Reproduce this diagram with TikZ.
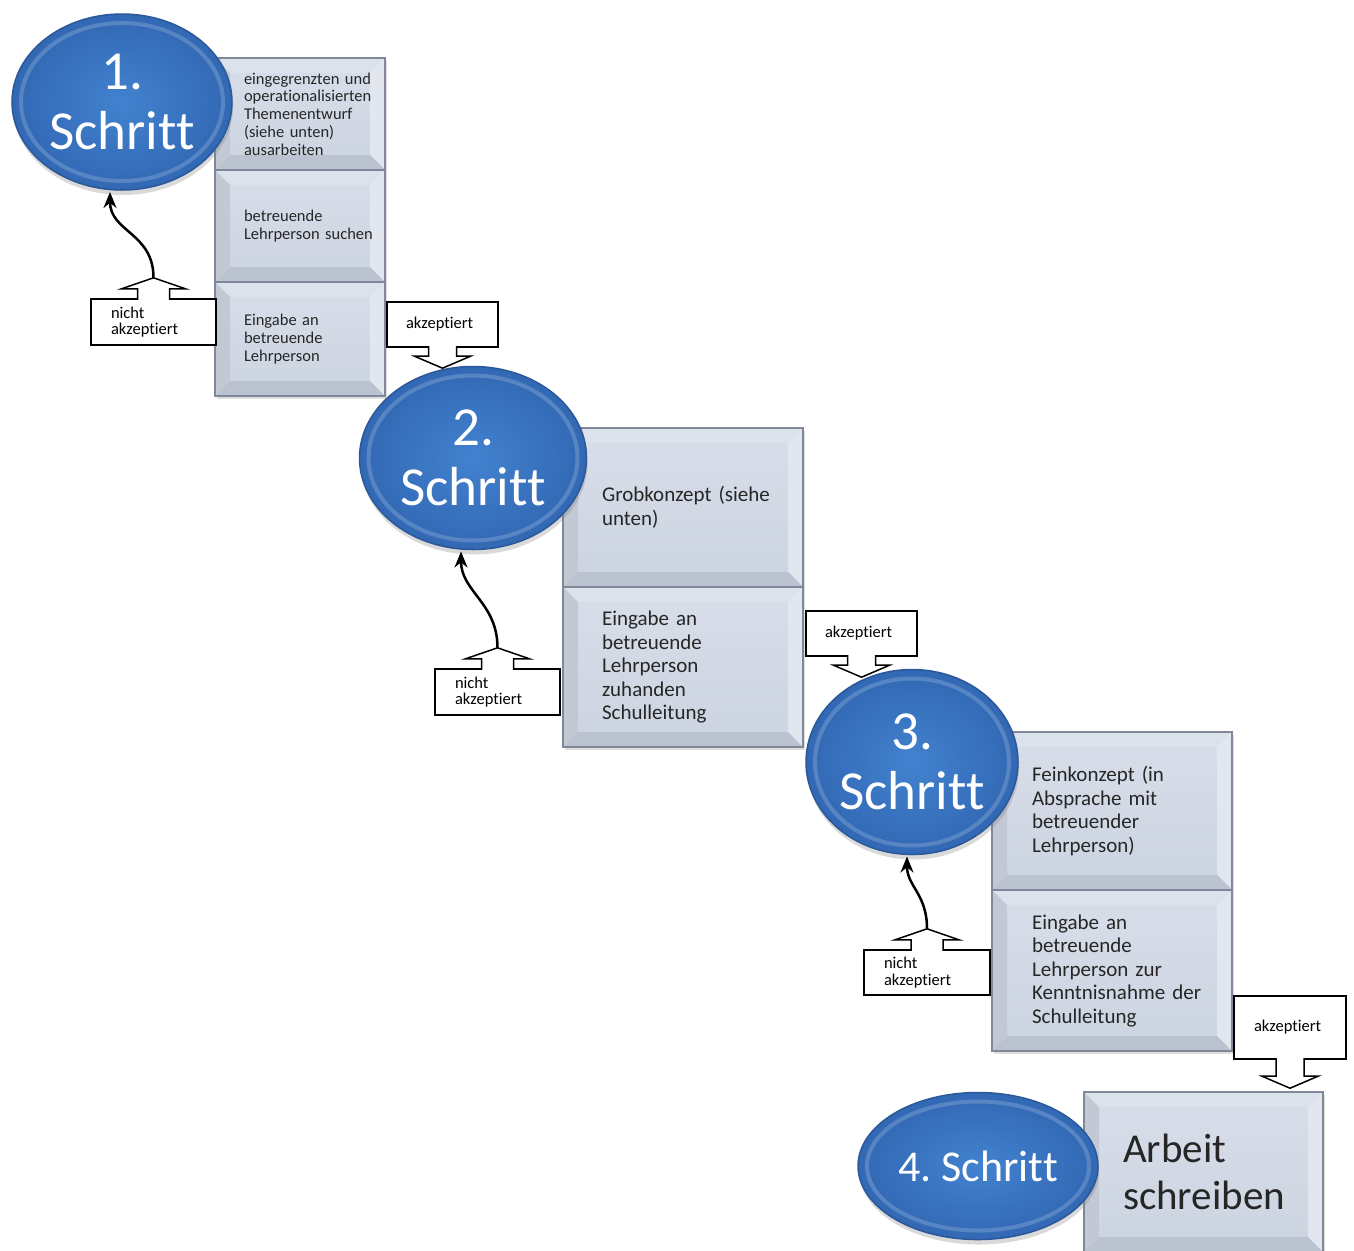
\documentclass[tikz,border=0pt]{standalone}
\usepackage{fontspec}
\setmainfont{Carlito}[Ligatures={TeX,NoCommon}]
\usetikzlibrary{calc}
\usetikzlibrary{arrows.meta}
\usetikzlibrary{shapes.geometric}
\usetikzlibrary{shadows}
\usepackage{xcolor}

\definecolor{ovalhell}{HTML}{4282CF}
\definecolor{ovalblau}{HTML}{3268B4}
\definecolor{ovalrand}{HTML}{2B5899}
\definecolor{facehell}{HTML}{D8DEE9}
\definecolor{facedunkel}{HTML}{CCD4E1}
\definecolor{kantehell}{HTML}{DCE2EC}
\definecolor{kantelinks}{HTML}{C2C9D5}
\definecolor{kanterechts}{HTML}{E2E7EF}
\definecolor{kanteunten}{HTML}{BBC3D0}
\definecolor{boxrand}{HTML}{7F8898}
\definecolor{schrift}{HTML}{262626}

\newcommand\fWinzig{\fontsize{16.5bp}{16.5bp}\selectfont}
\newcommand\fKlein{\fontsize{16.5bp}{17.7bp}\selectfont}
\newcommand\fMittel{\fontsize{21bp}{23.5bp}\selectfont}
\newcommand\fGross{\fontsize{41bp}{47bp}\selectfont}
\newcommand\fRiesig{\fontsize{55bp}{60bp}\selectfont}

\tikzset{
  schritt/.style={ellipse, inner sep=0pt, outer sep=0pt, align=center, text=white,
    inner color=ovalhell, outer color=ovalblau, draw=ovalrand, line width=1.5bp,
    drop shadow={shadow xshift=1bp, shadow yshift=-5bp, opacity=.3},
    path picture={
      \draw[white, opacity=.18, line width=4bp]
        let \p1=($(path picture bounding box.north east)-(path picture bounding box.center)$) in
        (path picture bounding box.center) ellipse [x radius=\x1-9bp, y radius=\y1-9bp];
    }},
  aufgabe/.style n args={4}{rectangle, anchor=north west, inner sep=0pt, outer sep=0pt,
    minimum width=#1, text width=#1, minimum height=#2, align=left, text=schrift, font=#4,
    execute at begin node={\leftskip=#3\relax},
    draw=boxrand, line width=1.5bp, top color=facehell, bottom color=facedunkel,
    drop shadow={shadow xshift=2bp, shadow yshift=-3bp, opacity=.25},
    path picture={
      \coordinate (bnw) at (path picture bounding box.north west);
      \coordinate (bne) at (path picture bounding box.north east);
      \coordinate (bsw) at (path picture bounding box.south west);
      \coordinate (bse) at (path picture bounding box.south east);
      \fill[kantehell] (bnw) -- (bne) -- ([shift={(-15bp,-15bp)}]bne) -- ([shift={(15bp,-15bp)}]bnw) -- cycle;
      \fill[kantelinks] (bnw) -- ([shift={(15bp,-15bp)}]bnw) -- ([shift={(15bp,15bp)}]bsw) -- (bsw) -- cycle;
      \fill[kanterechts] (bne) -- ([shift={(-15bp,-15bp)}]bne) -- ([shift={(-15bp,15bp)}]bse) -- (bse) -- cycle;
      \fill[kanteunten] (bsw) -- ([shift={(15bp,15bp)}]bsw) -- ([shift={(-15bp,15bp)}]bse) -- (bse) -- cycle;
    }},
  antwort/.style n args={3}{rectangle, anchor=north west, inner sep=0pt, outer sep=0pt,
    minimum width=#1, text width=#1, minimum height=#2, align=left, font=\fWinzig,
    execute at begin node={\leftskip=#3\relax},
    draw, fill=white, line width=1.5bp},
  tab/.style={draw, fill=white, line width=1.5bp, line join=miter},
  zurueck/.style={->, >={Stealth[length=16bp, width=13bp]}, line width=2.5bp}
}

\begin{document}
\begin{tikzpicture}[x=1bp, y=-1bp]
\useasboundingbox (0,0) rectangle (1354,1250);

% Aufgaben
\node[aufgabe={170bp}{112bp}{29bp}{\fKlein}] (a11) at (215,58) {eingegrenzten und\\operationalisierten\\Themenentwurf\\(siehe unten)\\ausarbeiten};
\node[aufgabe={170bp}{112bp}{29bp}{\fKlein}] (a12) at (215,170) {betreuende\\Lehrperson suchen};
\node[aufgabe={170bp}{114bp}{29bp}{\fKlein}] (a13) at (215,282) {Eingabe an\\betreuende\\Lehrperson};
\node[aufgabe={240bp}{159bp}{39bp}{\fMittel}] (a21) at (563,428) {Grobkonzept (siehe\\unten)};
\node[aufgabe={240bp}{160bp}{39bp}{\fMittel}] (a22) at (563,587) {Eingabe an\\betreuende\\Lehrperson\\zuhanden\\Schulleitung};
\node[aufgabe={240bp}{158bp}{40bp}{\fMittel}] (a31) at (992,732) {Feinkonzept (in\\Absprache mit\\betreuender\\Lehrperson)};
\node[aufgabe={240bp}{161bp}{40bp}{\fMittel}] (a32) at (992,890) {Eingabe an\\betreuende\\Lehrperson zur\\Kenntnisnahme der\\Schulleitung};
\node[aufgabe={239bp}{160bp}{39bp}{\fGross}] (a4) at (1084,1092) {Arbeit\\schreiben};

% Schritte
\node[schritt, font=\fRiesig, minimum width=220bp, minimum height=176bp] (s1) at (122,102) {1.\\Schritt};
\node[schritt, font=\fRiesig, minimum width=227bp, minimum height=183bp] (s2) at (473,458) {2.\\Schritt};
\node[schritt, font=\fRiesig, minimum width=212bp, minimum height=185bp] (s3) at (912,762) {3.\\Schritt};
\node[schritt, font=\fontsize{44bp}{50bp}\selectfont, minimum width=240bp, minimum height=147bp] (s4) at (978,1166) {4.\ Schritt};

% akzeptiert
\node[antwort={111bp}{45bp}{19bp}] (ak1) at (387,302) {akzeptiert};
\node[antwort={111bp}{45bp}{19bp}] (ak2) at (806,611) {akzeptiert};
\node[antwort={112bp}{63bp}{20bp}] (ak3) at (1234,996) {akzeptiert};
\foreach \n/\s in {ak1/10, ak2/10, ak3/18}
  \draw[tab] ([xshift=-14bp,yshift=0.8bp]\n.south) -- ++(0,\s) -- ++(-14,0) -- ++(28,12) -- ++(28,-12) -- ++(-14,0) -- ([xshift=14bp,yshift=0.8bp]\n.south);

% nicht akzeptiert
\node[antwort={125bp}{46bp}{20bp}] (n1) at (91,299) {nicht\\akzeptiert};
\node[antwort={125bp}{46bp}{20bp}] (n2) at (435,669) {nicht\\akzeptiert};
\node[antwort={126bp}{45bp}{20bp}] (n3) at (864,950) {nicht\\akzeptiert};
\foreach \n in {n1,n2,n3}
  \draw[tab] ([xshift=-16bp,yshift=-0.8bp]\n.north) -- ++(0,-11) -- ++(-16,0) -- ++(32,-11) coordinate (\n-tip) -- ++(32,11) -- ++(-16,0) -- ([xshift=16bp,yshift=-0.8bp]\n.north);

\draw[zurueck] (n1-tip) .. controls +(0,-45) and +(0,40) .. ([xshift=-12bp,yshift=-2bp]s1.south);
\draw[zurueck] (n2-tip) .. controls +(0,-45) and +(0,40) .. ([xshift=-12bp,yshift=-2bp]s2.south);
\draw[zurueck] (n3-tip) .. controls +(0,-35) and +(0,30) .. ([xshift=-5bp,yshift=-2bp]s3.south);
\end{tikzpicture}
\end{document}
